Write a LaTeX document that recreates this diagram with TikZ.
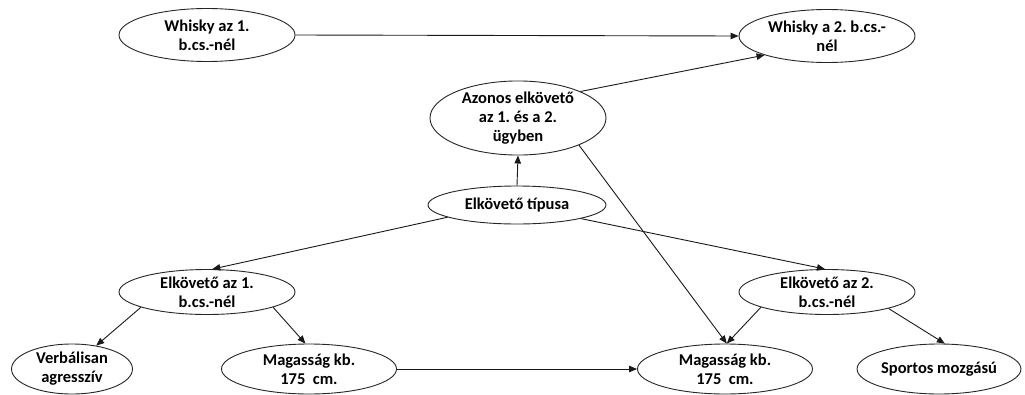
\documentclass[tikz,border=0pt]{standalone}
\usepackage{fontspec}
\setmainfont{Carlito}
\usetikzlibrary{shapes.geometric,arrows.meta}
\begin{document}
\begin{tikzpicture}[x=1pt,y=-1pt,
  ov/.style={ellipse,draw=black!85,line width=0.9pt,inner sep=0pt,align=center,
    font=\fontsize{16.5}{19}\selectfont\bfseries\frenchspacing,text=black},
  link/.style={draw=black!90,line width=0.9pt,-{Triangle[length=8pt,width=6.5pt]}}]
\useasboundingbox[fill=white] (0,0) rectangle (1025,394);
\node[ov,minimum width=176pt,minimum height=53pt] (w1) at (207,35) {Whisky az 1.\\b.cs.-nél};
\node[ov,minimum width=176pt,minimum height=53pt] (w2) at (827,36) {Whisky a 2. b.cs.-\\nél};
\node[ov,minimum width=176pt,minimum height=70pt] (az) at (518,118) {Azonos elkövető\\az 1. és a 2.\\ügyben};
\node[ov,minimum width=178pt,minimum height=38pt] (tip) at (517,205) {Elkövető típusa};
\node[ov,minimum width=176pt,minimum height=45pt] (e1) at (207,292) {Elkövető az 1.\\b.cs.-nél};
\node[ov,minimum width=176pt,minimum height=45pt] (e2) at (827,292) {Elkövető az 2.\\b.cs.-nél};
\node[ov,minimum width=121pt,minimum height=50pt] (v) at (72,369) {Verbálisan\\agresszív};
\node[ov,minimum width=175pt,minimum height=50pt] (m1) at (309,369) {Magasság kb.\\175 \ cm.};
\node[ov,minimum width=175pt,minimum height=50pt] (m2) at (725,369) {Magasság kb.\\175 \ cm.};
\node[ov,minimum width=162pt,minimum height=50pt] (s) at (939,369) {Sportos mozgású};
\draw[link] (w1.east) -- (w2.west);
\draw[link] (az.23) -- (w2.197);
\draw[link] (tip.north) -- (az.south);
\draw[link] (az.336) -- (m2.86);
\draw[link] (tip.190) -- (e1.77);
\draw[link] (tip.348) -- (e2.95);
\draw[link] (e1.193) -- (v.44);
\draw[link] (e1.347) -- (m1.98);
\draw[link] (e2.193) -- (m2.86);
\draw[link] (e2.345) -- (s.77);
\draw[link] (m1.east) -- (m2.west);
\end{tikzpicture}
\end{document}
